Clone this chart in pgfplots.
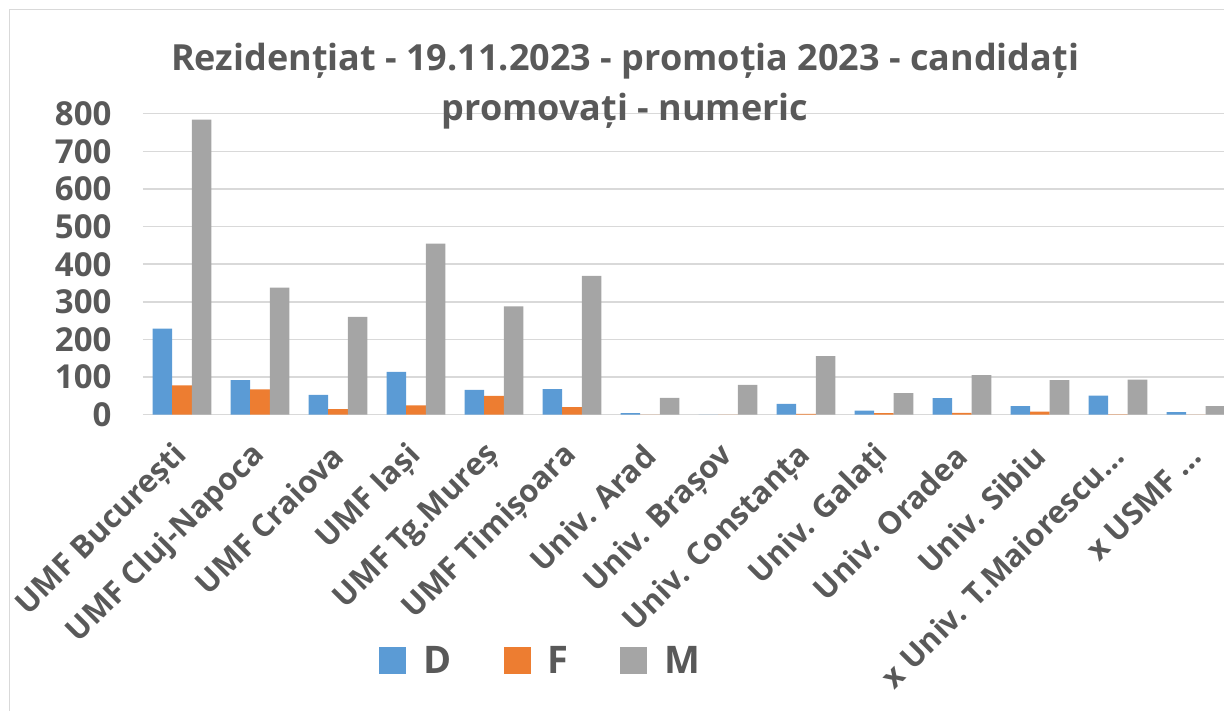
\documentclass[border=0pt]{standalone}
\usepackage{fontspec}
\setmainfont{Open Sans}
\usepackage{pgfplots}
\pgfplotsset{compat=1.18}
\definecolor{cD}{HTML}{5B9BD5}
\definecolor{cF}{HTML}{ED7D31}
\definecolor{cM}{HTML}{A5A5A5}
\definecolor{txt}{HTML}{595959}
\definecolor{grid}{HTML}{D9D9D9}
\begin{document}
\begin{tikzpicture}[x=1pt,y=1pt]
\begin{axis}[
  at={(143pt,296.3pt)}, anchor=south west,
  scale only axis, width=1081pt, height=301pt,
  ybar=0pt, bar width=0.2513,
  xmin=-0.5, xmax=13.36, ymin=0, ymax=800,
  ytick={0,100,...,800},
  xtick={0,...,13},
  xticklabels={UMF București,UMF Cluj-Napoca,UMF Craiova,UMF Iași,UMF Tg.Mureș,UMF Timișoara,Univ. Arad,Univ. Brașov,Univ. Constanța,Univ. Galați,Univ. Oradea,Univ. Sibiu,x Univ. T.Maiorescu…,x USMF …},
  major tick length=0pt,
  axis y line*=left, y axis line style={draw=none},
  axis x line*=bottom, x axis line style={draw=grid, line width=1.5pt},
  ymajorgrids, grid style={draw=grid, line width=1.5pt},
  /pgf/number format/assume math mode=true,
  yticklabel style={font=\bfseries\fontsize{33}{38}\selectfont, text=txt, anchor=east, xshift=-28pt},
  xticklabel style={font=\bfseries\fontsize{31}{36}\selectfont, text=txt, yshift=-36pt, xshift=0pt, rotate=45, anchor=east, inner sep=0pt},
  title={Rezidențiat - 19.11.2023 - promoția 2023 - candidați\\promovați - numeric},
  title style={font=\bfseries\fontsize{36}{50}\selectfont, text=txt, align=center, inner sep=0pt, at={(0.446,1.215)}, anchor=north},
  legend columns=3,
  legend style={draw=none, fill=none, at={(0.368,-0.816)}, anchor=center, font=\bfseries\fontsize{38}{42}\selectfont, text=txt, /tikz/every even column/.append style={column sep=50pt}},
  legend image code/.code={\fill[#1] (0pt,-13.5pt) rectangle (27pt,13.5pt); \path (42pt,0pt);},
]
\addplot[fill=cD, draw=none] coordinates {(0,229) (1,92) (2,53) (3,114) (4,66) (5,68) (6,4) (7,0) (8,29) (9,11) (10,44) (11,23) (12,51) (13,7)};
\addplot[fill=cF, draw=none] coordinates {(0,78) (1,67) (2,15) (3,25) (4,50) (5,20) (6,0) (7,0) (8,2) (9,4) (10,5) (11,8) (12,1) (13,0)};
\addplot[fill=cM, draw=none] coordinates {(0,784) (1,338) (2,260) (3,455) (4,288) (5,369) (6,45) (7,79) (8,156) (9,57) (10,105) (11,92) (12,93) (13,23)};
\legend{D,F,M}
\end{axis}
\draw[grid, line width=1.5pt] (9.5,-5) -- (9.5,701.5) -- (1230,701.5);
\pgfresetboundingbox
\useasboundingbox (0,0) rectangle (1224,711);
\end{tikzpicture}
\end{document}
